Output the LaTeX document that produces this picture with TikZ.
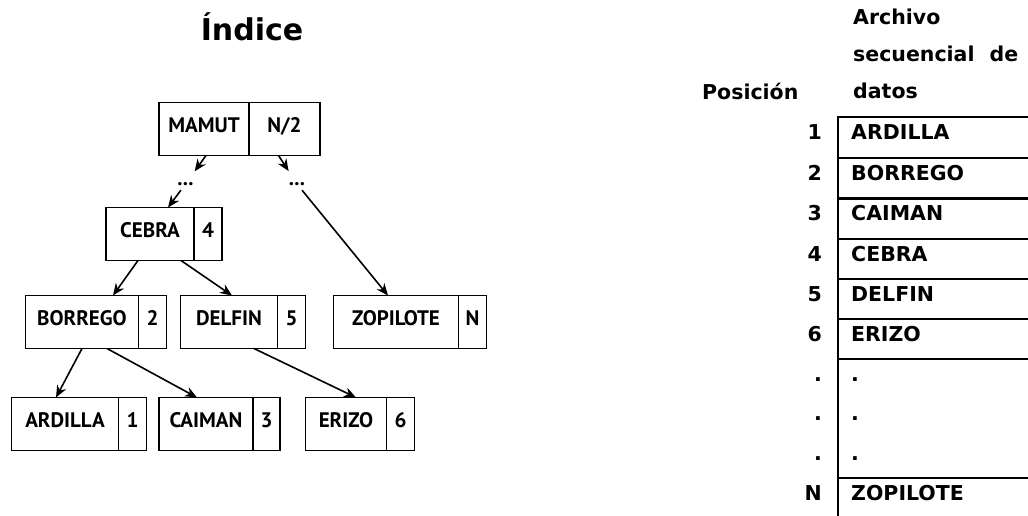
\documentclass[tikz,border=0pt]{standalone}
\usepackage{fontspec}
\setmainfont{DejaVu Sans}
\newfontfamily\arbolfont{PT Sans}
\usetikzlibrary{positioning,arrows.meta}

\newcommand\letraarbol{\arbolfont\bfseries\fontsize{21}{25}\selectfont}
\newcommand\letratabla{\bfseries\fontsize{20.5}{24}\selectfont}

\tikzset{
	clave/.style={draw,line width=1.9pt,inner sep=0pt,outer sep=0pt,minimum height=53pt,text height=15pt,text depth=9pt,font=\letraarbol},
	indice/.style={clave,minimum width=28pt},
	puntos/.style={inner sep=0pt,minimum width=16pt,minimum height=12pt,text height=2.5pt,text depth=0pt,font=\letraarbol},
	flecha/.style={-{Stealth[length=12pt,width=10pt]},line width=1.6pt},
	dato/.style={anchor=base west,inner sep=0pt,font=\letratabla},
	posnum/.style={dato,anchor=base east},
	linea/.style={line width=2.8pt},
}

\begin{document}
\begin{tikzpicture}[x=1pt,y=-1pt]
		\useasboundingbox[fill=white] (0,0) rectangle (1028,515);
		\node[dato,anchor=base,font=\bfseries\fontsize{30}{35}\selectfont] (titulo) at (252,40) {Índice};
		
		% arbol del indice
		\node[clave,minimum width=90pt] (mamut) at (204,129) {MAMUT};
		\node[clave,minimum width=71pt,right=0pt of mamut] (mamutn) {N/2};
		\node[puntos] (pizq) at (185.5,184) {...};
		\node[puntos] (pder) at (297,184) {...};
		\node[clave,minimum width=88pt] (cebra) at (150,234) {CEBRA};
		\node[indice,right=0pt of cebra] (cebran) {4};
		\node[clave,minimum width=113pt] (borrego) at (82,322) {BORREGO};
		\node[indice,right=0pt of borrego] (borregon) {2};
		\node[clave,minimum width=97pt] (delfin) at (229,322) {DELFIN};
		\node[indice,right=0pt of delfin] (delfinn) {5};
		\node[clave,minimum width=125pt] (zopilote) at (396,322) {ZOPILOTE};
		\node[indice,right=0pt of zopilote] (zopiloten) {N};
		\node[clave,minimum width=107pt] (ardilla) at (65,424) {ARDILLA};
		\node[indice,right=0pt of ardilla] (ardillan) {1};
		\node[clave,minimum width=94pt] (caiman) at (206,424) {CAIMAN};
		\node[indice,minimum width=27pt,right=0pt of caiman] (caimann) {3};
		\node[clave,minimum width=81pt] (erizo) at (346,424) {ERIZO};
		\node[indice,right=0pt of erizo] (erizon) {6};
		
		\draw[flecha,shorten >=8pt] ([xshift=2pt]mamut.south) -- (pizq);
		\draw[flecha,shorten >=8pt] ([xshift=-6pt]mamutn.south) -- (pder);
		\draw[flecha] (pizq) -- ([xshift=18pt]cebra.north);
		\draw[flecha] (pder) -- ([xshift=-8pt]zopilote.north);
		\draw[flecha] ([xshift=-12pt]cebra.south) -- ([xshift=31pt]borrego.north);
		\draw[flecha] ([xshift=31pt]cebra.south) -- ([xshift=3pt]delfin.north);
		\draw[flecha] (borrego.south) -- ([xshift=-9pt]ardilla.north);
		\draw[flecha] ([xshift=25pt]borrego.south) -- ([xshift=-9pt]caiman.north);
		\draw[flecha] ([xshift=25pt]delfin.south) -- ([xshift=10pt]erizo.north);
		
		% archivo secuencial
		\node[dato] (archivo) at (853,24) {Archivo};
		\node[dato] (secuencial) at (853,61) {secuencial\hspace{15pt}de};
		\node[dato] (datos) at (853,98) {datos};
		\node[dato] (posicion) at (702,99) {Posición};
		\draw[linea] (1030,117) -- (838,117) -- (838,516);
		\foreach \t in {158,198.5,239,279,319,359,478}
			\draw[linea] (838,\t) -- (1030,\t);
		\foreach \t/\n/\nom [count=\k] in {117/1/ARDILLA,158/2/BORREGO,198.5/3/CAIMAN,239/4/CEBRA,279/5/DELFIN,319/6/ERIZO,359/./.,398.5/./.,438/./.,478/N/ZOPILOTE}{
			\node[posnum] (p\k) at (822,{\t+22}) {\n};
			\node[dato] (d\k) at (851,{\t+22}) {\nom};
		}
		
		\end{tikzpicture}
\end{document}
